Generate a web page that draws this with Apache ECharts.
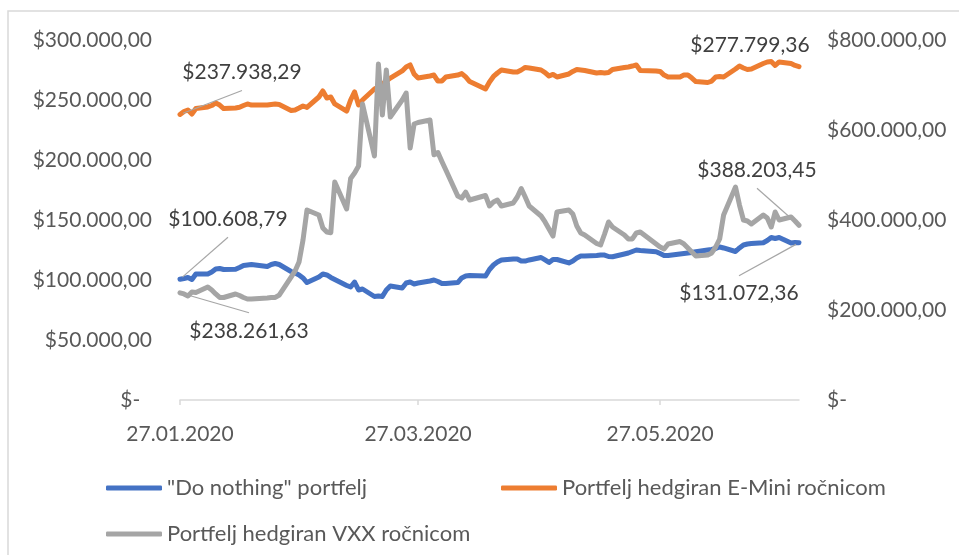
<!DOCTYPE html>
<html>
<head>
<meta charset="utf-8">
<script src="https://cdn.jsdelivr.net/npm/echarts@6/dist/echarts.min.js"></script>
<style>
html,body{margin:0;padding:0;background:#fff;}
#chartmain{width:959px;height:555px;}
</style>
</head>
<body>
<div id="chartmain"></div>
<script>
// trgovacki dani 27.01.2020 - 01.07.2020
var dates = [
    '2020-01-27','2020-01-28','2020-01-29','2020-01-30','2020-01-31',
    '2020-02-03','2020-02-04','2020-02-05','2020-02-06','2020-02-07','2020-02-10','2020-02-11','2020-02-12','2020-02-13','2020-02-14',
    '2020-02-18','2020-02-19','2020-02-20','2020-02-21','2020-02-24','2020-02-25','2020-02-26','2020-02-27','2020-02-28',
    '2020-03-02','2020-03-03','2020-03-04','2020-03-05','2020-03-06','2020-03-09','2020-03-10','2020-03-11','2020-03-12','2020-03-13',
    '2020-03-16','2020-03-17','2020-03-18','2020-03-19','2020-03-20','2020-03-23','2020-03-24','2020-03-25','2020-03-26','2020-03-27',
    '2020-03-30','2020-03-31',
    '2020-04-01','2020-04-02','2020-04-03','2020-04-06','2020-04-07','2020-04-08','2020-04-09','2020-04-13','2020-04-14','2020-04-15',
    '2020-04-16','2020-04-17','2020-04-20','2020-04-21','2020-04-22','2020-04-23','2020-04-24','2020-04-27','2020-04-28','2020-04-29','2020-04-30',
    '2020-05-01','2020-05-04','2020-05-05','2020-05-06','2020-05-07','2020-05-08','2020-05-11','2020-05-12','2020-05-13','2020-05-14',
    '2020-05-15','2020-05-18','2020-05-19','2020-05-20','2020-05-21','2020-05-22','2020-05-26','2020-05-27','2020-05-28','2020-05-29',
    '2020-06-01','2020-06-02','2020-06-03','2020-06-04','2020-06-05','2020-06-08','2020-06-09','2020-06-10','2020-06-11','2020-06-12',
    '2020-06-15','2020-06-16','2020-06-17','2020-06-18','2020-06-19','2020-06-22','2020-06-23','2020-06-24','2020-06-25','2020-06-26',
    '2020-06-29','2020-06-30',
    '2020-07-01'
];

var doNothing = [
    100608.79, 101250, 102100, 100400, 105000,
    105000, 106700, 109200, 109600, 108750, 108900, 110400, 112100, 112500, 112900,
    111250, 112900, 113750, 112900, 107100, 105800, 104200, 101700, 97900,
    102500, 105000, 104200, 102100, 100400, 95400, 94200, 98300, 91700, 92500,
    86250, 86700, 86250, 91700, 95000, 93300, 97500, 98300, 96700, 97500,
    99200, 100000,
    98750, 97100, 97100, 97900, 101700, 103300, 103750, 103300, 108750, 112500,
    115000, 116700, 117500, 117500, 115800, 115800, 116700, 118750, 116700, 114600, 117100,
    117100, 114200, 115800, 118300, 120000, 120000, 120400, 120800, 120800, 119600,
    119400, 121700, 122500, 123750, 125000, 124600, 123600, 122100, 120400, 120400,
    121700, 122100, 122500, 122900, 123600, 125000, 125400, 126250, 127500, 126700,
    123750, 126700, 129200, 130000, 130400, 131100, 132900, 135400, 134600, 135400,
    130800, 131250,
    131072.36
];

var eMini = [
    237938.29, 240400, 241700, 238300, 242900,
    244200, 245400, 247500, 245800, 242900, 243300, 243900, 245400, 246700, 245800,
    245800, 246300, 246700, 246300, 241300, 241700, 243300, 245000, 243800,
    252500, 257500, 251700, 252500, 246700, 240800, 250000, 256700, 245800, 250000,
    259200, 260800, 263300, 265800, 268300, 274200, 277500, 279200, 271700, 268300,
    270000, 270800,
    265800, 265800, 269200, 270800, 272000, 269200, 265400, 259200, 265000, 269600,
    272500, 275000, 273300, 273300, 275000, 277100, 276700, 275000, 272900, 270000, 271300,
    269200, 271700, 273800, 275400, 275000, 274600, 272500, 272900, 272500, 272900,
    275400, 277100, 277500, 278300, 279200, 274600, 274200, 273800, 270800, 269200,
    269200, 270800, 270800, 268300, 265400, 264600, 265800, 269200, 269600, 269200,
    275800, 278300, 276700, 275400, 275800, 280400, 281700, 282100, 278800, 281700,
    280400, 278800,
    277799.36
];

var vxx = [
    238261.63, 235600, 231100, 240000, 238900,
    251100, 244400, 235600, 227800, 227800, 235600, 232200, 227800, 224400, 224400,
    226700, 227800, 227800, 233300, 273300, 286700, 306700, 355600, 422200,
    411100, 382200, 373300, 371800, 484400, 424400, 492200, 504400, 520000, 657800,
    542200, 746700, 633300, 733300, 628900, 666700, 682200, 560000, 613300, 616700,
    622200, 545000,
    550000, 530000, 511100, 453300, 448900, 462200, 444400, 454400, 431100, 440000,
    444400, 431100, 437800, 451100, 470000, 451100, 431100, 408900, 395600, 380000, 364400,
    417800, 422200, 413300, 386700, 371100, 366700, 347800, 344400, 368900, 395600,
    384400, 366700, 357800, 357800, 371100, 373300, 346700, 340000, 335600, 346700,
    352200, 346700, 337800, 328900, 320000, 322200, 326700, 340000, 357800, 411100,
    473300, 433300, 400000, 397800, 391100, 411100, 404400, 384400, 417800, 400000,
    406700, 397800,
    388203.45
];

var seriesNames = ['"Do nothing" portfelj', 'Portfelj hedgiran E-Mini ročnicom', 'Portfelj hedgiran VXX ročnicom'];
var xTicks = ['2020-01-27', '2020-03-27', '2020-05-27'];

var txt = '#595959';
var font = 'Lato';

function day(s) {
    var p = s.split('-');
    return new Date(+p[0], +p[1] - 1, +p[2]).getTime();
}

function money(v) {
    if (v === 0) return '$-';
    var p = v.toFixed(2).split('.');
    return '$' + p[0].replace(/\B(?=(\d{3})+(?!\d))/g, '.') + ',' + p[1];
}

function pad(n) { return n < 10 ? '0' + n : '' + n; }

// pomak oznaka od tocke i ima li vodilicu: [prva, zadnja]
var labelShift = [
    [[48, -60, true], [-60, 51, true]],
    [[62, -42, true], [-49, -21, false]],
    [[69, 38, true], [-42, -55, true]]
];

// prva i zadnja tocka dobivaju oznaku
function pairs(vals) {
    return vals.map(function (v, i) {
        var item = { value: [day(dates[i]), v] };
        if (i === 0 || i === vals.length - 1) {
            item.label = { show: true };
        }
        return item;
    });
}

function lineSeries(idx, vals, color, yIndex) {
    return {
        name: seriesNames[idx],
        type: 'line',
        yAxisIndex: yIndex,
        data: pairs(vals),
        symbol: 'circle',
        symbolSize: 1,
        showSymbol: true,
        itemStyle: { color: color },
        lineStyle: { color: color, width: 5, cap: 'round', join: 'round' },
        label: {
            show: false,
            position: 'inside',
            color: '#404040',
            fontSize: 21,
            fontFamily: font,
            formatter: function (p) { return money(p.value[1]); }
        },
        labelLayout: function (p) {
            var s = labelShift[p.seriesIndex][p.dataIndex === 0 ? 0 : 1];
            return { dx: s[0], dy: s[1] };
        },
        emphasis: { disabled: true },
        z: 2 + idx
    };
}

var legendCommon = {
    icon: 'roundRect',
    itemWidth: 56,
    itemHeight: 5,
    selectedMode: false,
    textStyle: { color: txt, fontSize: 22, fontFamily: font }
};

var frame = {
    type: 'rect',
    shape: { x: 8, y: 11, width: 1000, height: 600 },
    style: { fill: 'none', stroke: '#d9d9d9', lineWidth: 1.5 },
    silent: true
};

var option = {
    animation: false,
    backgroundColor: '#fff',
    grid: { left: 180, right: 160, top: 40, bottom: 155 },
    graphic: [frame],
    legend: [
        Object.assign({ data: [{ name: seriesNames[0], itemStyle: { color: '#4472c4' } }], left: 101, top: 472 }, legendCommon),
        Object.assign({ data: [{ name: seriesNames[1], itemStyle: { color: '#ed7d31' } }], left: 496, top: 472 }, legendCommon),
        Object.assign({ data: [{ name: seriesNames[2], itemStyle: { color: '#a5a5a5' } }], left: 101, top: 518 }, legendCommon)
    ],
    xAxis: {
        type: 'value',
        min: day(dates[0]),
        max: day(dates[dates.length - 1]),
        axisLine: { lineStyle: { color: '#d9d9d9', width: 1.5 } },
        axisTick: { show: true, length: 5, customValues: xTicks.map(day), lineStyle: { color: '#d9d9d9', width: 1.5 } },
        axisLabel: {
            customValues: xTicks.map(day),
            color: txt,
            fontSize: 21,
            fontFamily: font,
            margin: 24,
            formatter: function (v) {
                var d = new Date(v);
                return pad(d.getDate()) + '.' + pad(d.getMonth() + 1) + '.' + d.getFullYear();
            }
        },
        splitLine: { show: false }
    },
    yAxis: [{
        type: 'value',
        min: 0,
        max: 300000,
        interval: 50000,
        axisLine: { show: false },
        axisTick: { show: false },
        splitLine: { show: false },
        axisLabel: {
            color: txt, fontSize: 21, fontFamily: font, margin: 28,
            formatter: function (v) { return v === 0 ? '$-\u2002\u200a' : money(v); }
        }
    }, {
        type: 'value',
        min: 0,
        max: 800000,
        interval: 200000,
        axisLine: { show: false },
        axisTick: { show: false },
        splitLine: { show: false },
        axisLabel: { color: txt, fontSize: 21, fontFamily: font, margin: 28, formatter: money }
    }],
    series: [
        lineSeries(0, doNothing, '#4472c4', 0),
        lineSeries(1, eMini, '#ed7d31', 0),
        lineSeries(2, vxx, '#a5a5a5', 1)
    ]
};

var myChart = echarts.init(document.getElementById('chartmain'));
myChart.setOption(option);

// vodilice od oznake do tocke, preko skala grafa
function leaders() {
    var out = [];
    [doNothing, eMini, vxx].forEach(function (vals, si) {
        [0, vals.length - 1].forEach(function (di, k) {
            var s = labelShift[si][k];
            if (!s[2]) return;
            var p = myChart.convertToPixel({ xAxisIndex: 0, yAxisIndex: si === 2 ? 1 : 0 }, [day(dates[di]), vals[di]]);
            var sx = p[0] + s[0], sy = p[1] + s[1] + (s[1] < 0 ? 18 : -18);
            out.push({
                type: 'line',
                shape: { x1: sx, y1: sy, x2: p[0] + (sx - p[0]) * 0.05, y2: p[1] + (sy - p[1]) * 0.05 },
                style: { stroke: '#a6a6a6', lineWidth: 1.2 },
                silent: true,
                z: 10
            });
        });
    });
    return out;
}
myChart.setOption({ graphic: [frame].concat(leaders()) });
</script>
</body>
</html>
